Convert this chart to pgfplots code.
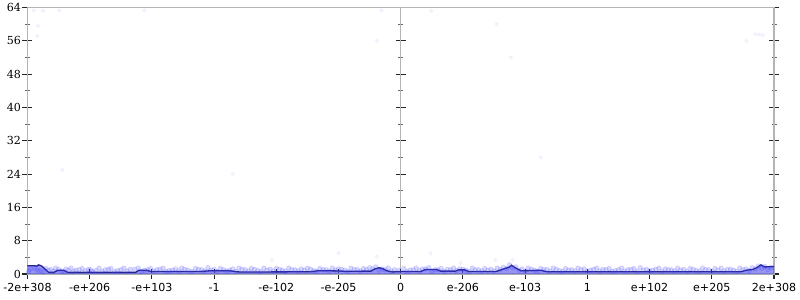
\documentclass[border=0pt]{standalone}
\usepackage{pgfplots}
\pgfplotsset{compat=1.18}
\usepackage{fontspec}
\setmainfont{DejaVu Serif}
\newfontfamily\sansf{DejaVu Sans}
\definecolor{axgray}{RGB}{180,180,180}
\definecolor{linecol}{RGB}{35,35,140}
\definecolor{fillcol}{RGB}{80,80,235}
\definecolor{dotcol}{RGB}{70,70,255}
\pgfplotstableread{
x y
-6.00 2.0
-5.90 2.0
-5.85 1.9
-5.82 2.2
-5.77 1.9
-5.71 1.1
-5.66 0.4
-5.58 0.4
-5.51 0.9
-5.42 0.9
-5.35 0.4
-4.26 0.4
-4.21 0.9
-4.08 0.9
-4.02 0.6
-3.22 0.6
-3.05 0.8
-2.77 0.8
-2.60 0.5
-2.09 0.5
-1.45 0.55
-1.32 0.8
-1.05 0.75
-0.88 0.65
-0.48 0.7
-0.42 1.2
-0.35 1.5
-0.29 1.3
-0.23 0.8
-0.13 0.5
0.00 0.6
0.32 0.6
0.40 1.1
0.58 1.1
0.64 0.7
0.88 0.7
0.93 1.0
1.03 1.0
1.09 0.6
1.53 0.6
1.61 1.0
1.69 1.4
1.74 1.6
1.78 2.1
1.83 1.6
1.93 0.8
2.01 0.8
2.25 0.9
2.35 0.55
5.47 0.55
5.55 0.9
5.66 1.1
5.72 1.5
5.79 2.2
5.85 1.7
6.00 1.8
}\densitytable
\pgfplotstableread{
x y
-5.90 63.3
-5.75 63.2
-5.49 63.3
-4.12 63.3
-5.83 59.6
-5.84 57.2
-0.31 63.3
0.49 63.2
-0.38 56.0
5.76 57.5
5.70 57.6
5.82 57.4
5.56 56.0
-5.44 25.0
-2.70 24.0
2.25 28.0
1.77 52.0
1.54 60.0
-1.00 5.0
0.48 5.0
1.52 3.4
1.80 3.4
0.96 2.6
-2.07 3.4
-0.38 4.2
}\outliertable
\pgfplotstableread{
x y
-5.95 1.2
-5.88 1.4
-5.80 0.8
-5.70 1.3
-5.62 1.0
-5.55 1.4
-5.45 0.7
-5.38 1.2
-5.30 1.4
-5.22 0.9
-5.12 1.3
-5.02 1.1
-4.95 0.6
-4.85 1.4
-4.75 1.0
-4.66 1.3
-4.55 0.8
-4.45 1.4
-4.35 1.1
-4.22 1.4
-4.12 0.9
-4.02 1.3
-3.92 1.0
-3.82 1.4
-3.72 0.8
-3.62 1.2
-3.52 1.4
-3.42 0.9
-3.30 1.3
-3.20 1.0
-3.10 1.5
-3.00 1.1
-2.90 1.3
-2.80 0.7
-2.70 1.2
-2.60 1.4
-2.50 1.0
-2.40 1.3
-2.30 0.8
-2.20 1.4
-2.10 1.1
-2.00 1.3
-1.90 0.9
-1.80 1.4
-1.70 1.0
-1.60 1.2
-1.50 1.4
-1.40 0.8
-1.30 1.3
-1.20 1.0
-1.10 1.4
-1.00 1.2
-0.90 0.9
-0.80 1.4
-0.70 1.1
-0.60 1.3
-0.50 1.5
-0.40 1.7
-0.30 1.2
-0.20 1.4
-0.10 1.0
0.05 1.3
0.15 0.9
0.25 1.4
0.35 1.2
0.45 1.5
0.55 1.0
0.65 1.3
0.75 1.1
0.85 1.4
0.95 1.2
1.05 0.9
1.15 1.4
1.25 1.0
1.35 1.3
1.45 1.1
1.55 1.4
1.65 1.6
1.75 2.2
1.85 1.7
1.95 1.2
2.05 1.4
2.15 0.9
2.25 1.3
2.35 1.1
2.45 1.4
2.55 0.8
2.65 1.3
2.75 1.0
2.85 1.4
2.95 1.2
3.05 0.9
3.15 1.4
3.25 1.1
3.35 1.3
3.45 0.8
3.55 1.4
3.65 1.0
3.75 1.3
3.85 1.5
3.95 1.1
4.05 0.9
4.15 1.4
4.25 1.2
4.35 1.0
4.45 1.4
4.55 1.1
4.65 1.3
4.75 0.8
4.85 1.4
4.95 1.0
5.05 1.3
5.15 1.4
5.25 1.1
5.35 0.9
5.45 1.4
5.55 1.2
5.65 1.5
5.75 1.9
5.85 1.8
5.95 1.5
-5.98 0.6
-5.84 0.9
-5.75 0.5
-5.66 0.9
-5.58 0.6
-5.50 1.1
-5.41 0.5
-5.34 0.9
-5.26 0.6
-5.17 1.0
-5.07 0.7
-4.99 1.0
-4.90 0.8
-4.80 0.6
-4.70 1.1
-4.60 0.6
-4.50 1.0
-4.40 0.7
-4.28 1.1
-4.17 0.6
-4.07 1.0
-3.97 0.7
-3.87 1.1
-3.77 0.6
-3.67 0.9
-3.57 0.7
-3.47 1.1
-3.36 0.6
-3.25 1.1
-3.15 0.7
-3.05 0.9
-2.95 0.6
-2.85 1.0
-2.75 0.9
-2.65 0.6
-2.55 1.1
-2.45 0.7
-2.35 1.1
-2.25 0.6
-2.15 0.9
-2.05 0.7
-1.95 1.1
-1.85 0.6
-1.75 1.0
-1.65 0.7
-1.55 0.9
-1.45 1.1
-1.35 0.6
-1.25 1.0
-1.15 0.7
-1.05 0.9
-0.95 1.1
-0.85 0.6
-0.75 1.0
-0.65 0.7
-0.55 1.0
-0.45 1.2
-0.35 0.9
-0.25 1.0
-0.15 0.7
-0.03 0.9
0.10 0.6
0.20 1.0
0.30 0.8
0.40 1.2
0.50 0.7
0.60 1.0
0.70 0.6
0.80 1.0
0.90 0.8
1.00 1.1
1.10 0.6
1.20 1.0
1.30 0.7
1.40 0.9
1.50 0.7
1.60 1.1
1.70 1.3
1.80 1.5
1.90 0.9
2.00 0.7
2.10 1.1
2.20 0.6
2.30 1.0
2.40 0.7
2.50 1.1
2.60 0.6
2.70 0.9
2.80 0.7
2.90 1.0
3.00 0.6
3.10 1.1
3.20 0.7
3.30 1.0
3.40 0.6
3.50 1.0
3.60 0.7
3.70 1.1
3.80 0.6
3.90 0.9
4.00 0.7
4.10 1.1
4.20 0.6
4.30 1.0
4.40 0.7
4.50 0.9
4.60 0.6
4.70 1.1
4.80 0.7
4.90 1.0
5.00 0.6
5.10 0.9
5.20 0.7
5.30 1.1
5.40 0.6
5.50 1.0
5.60 0.8
5.70 1.2
5.80 1.4
5.90 1.1
}\dottable
\begin{document}
\begin{tikzpicture}
% middle y axis at x = 0
\begin{axis}[
  at={(0,0)}, anchor=south west,
  scale only axis, width=559.9pt, height=199.9pt,
  xmin=-6, xmax=6, ymin=0, ymax=64,
  axis x line=none, axis y line=middle,
  y axis line style={-, axgray, line width=1pt},
  ytick={0,8,...,64}, minor y tick num=1,
  yticklabels={},
  tick align=center, major tick length=7.5pt, minor tick length=3.75pt,
  every major tick/.style={black!85, line width=0.8pt},
  every minor tick/.style={black!60, line width=0.6pt},
]
\end{axis}
\begin{axis}[
  at={(0,0)}, anchor=south west,
  scale only axis, width=559.9pt, height=199.9pt,
  xmin=-6, xmax=6, ymin=0, ymax=64,
  xtick={-6,-5,...,6},
  xticklabels={-2e+308,-e+206,-e+103,-1,-e-102,-e-205,0,e-206,e-103,1,e+102,e+205,2e+308},
  ytick={0,8,...,64}, minor y tick num=1,
  xtick pos=left, ytick pos=both, yticklabel pos=left,
  tick align=center, major tick length=7.5pt, minor tick length=3.75pt,
  axis line style={axgray, line width=1pt},
  every major tick/.style={black!85, line width=0.8pt},
  every minor tick/.style={black!60, line width=0.6pt},
  /pgf/number format/assume math mode=true,
  yticklabel style={font=\fontsize{8.3}{10}\selectfont, inner sep=1pt},
  xticklabel style={font=\sansf\fontsize{8.3}{10}\selectfont, inner sep=1pt, yshift=-2pt},
  clip=false,
]
\addplot[only marks, mark=*, mark size=1.4pt, mark options={solid, draw=dotcol, fill=dotcol, opacity=0.06}] table[x=x,y=y] {\outliertable};
\addplot[only marks, mark=*, mark size=1.8pt, mark options={solid, draw=dotcol, fill=dotcol, opacity=0.2}] table[x=x,y=y] {\dottable};
\addplot[draw=none, fill=fillcol, fill opacity=0.6] table[x=x,y=y] {\densitytable} \closedcycle;
\addplot[linecol, line width=1pt] table[x=x,y=y] {\densitytable};
\end{axis}
\pgfresetboundingbox
\useasboundingbox (-20.6pt,-19.5pt) rectangle (579.4pt,205.5pt);
\end{tikzpicture}
\end{document}
